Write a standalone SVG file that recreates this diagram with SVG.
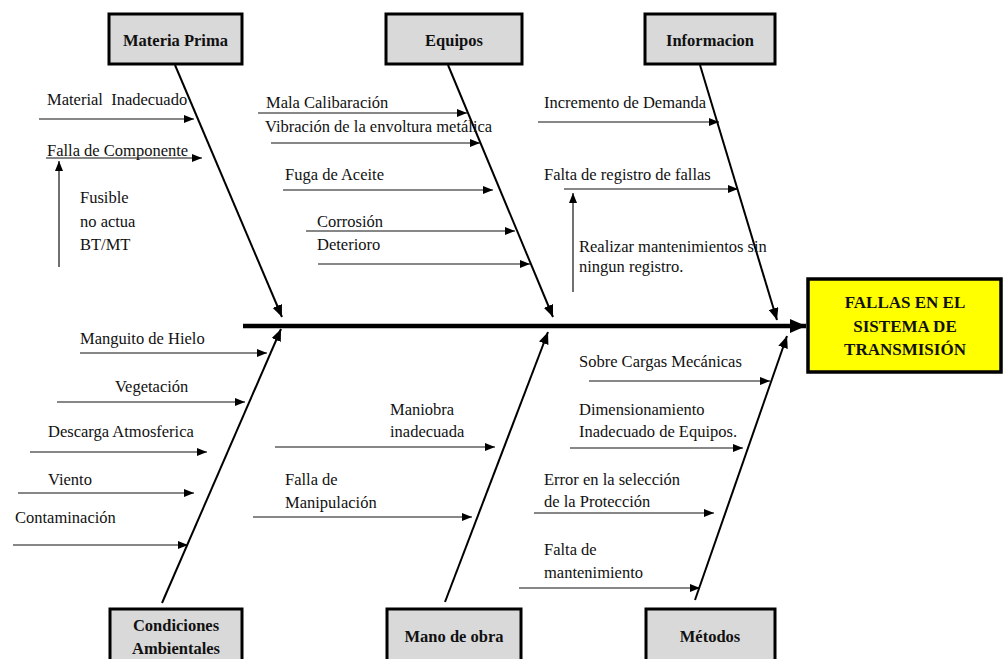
<svg xmlns="http://www.w3.org/2000/svg" width="1003" height="659" viewBox="0 0 1003 659">
<style>
text{font-family:"Liberation Serif","Times New Roman",serif;fill:#111}
.c{font-size:16.5px}
.h{font-size:16.5px;font-weight:bold;text-anchor:middle}
.e{font-size:17px;font-weight:bold;text-anchor:middle}
.box{fill:#d9d9d9;stroke:#000;stroke-width:3}
.eff{fill:#ffff00;stroke:#000;stroke-width:3.5}
.rib{stroke:#111;stroke-width:1.2;fill:none;marker-end:url(#a)}
.bone{stroke:#000;stroke-width:2;fill:none;marker-end:url(#b)}
.spine{stroke:#000;stroke-width:4.5;fill:none;marker-end:url(#s)}
</style>
<defs>
<marker id="a" markerUnits="userSpaceOnUse" markerWidth="10" markerHeight="8" refX="10" refY="4" orient="auto"><path d="M0,0 L10,4 L0,8 z" fill="#000"/></marker>
<marker id="b" markerUnits="userSpaceOnUse" markerWidth="12" markerHeight="10" refX="12" refY="5" orient="auto"><path d="M0,0 L12,5 L0,10 z" fill="#000"/></marker>
<marker id="s" markerUnits="userSpaceOnUse" markerWidth="16" markerHeight="14" refX="16" refY="7" orient="auto"><path d="M0,0 L16,7 L0,14 z" fill="#000"/></marker>
</defs>
<rect width="1003" height="659" fill="#fff"/>

<g id="connectors">
<line class="spine" x1="243" y1="326" x2="806" y2="326"/>
<line class="bone" x1="175" y1="65" x2="282" y2="317"/>
<line class="bone" x1="448" y1="65" x2="553" y2="317"/>
<line class="bone" x1="700" y1="65" x2="777" y2="320"/>
<line class="bone" x1="162" y1="603" x2="281" y2="329"/>
<line class="bone" x1="445" y1="602" x2="548" y2="332"/>
<line class="bone" x1="695" y1="600" x2="787" y2="336"/>
<!-- Materia Prima ribs -->
<line class="rib" x1="39" y1="119" x2="194" y2="119"/>
<line class="rib" x1="46" y1="158" x2="202" y2="158"/>
<line class="rib" x1="59" y1="267" x2="59" y2="161"/>
<!-- Equipos ribs -->
<line class="rib" x1="258" y1="113" x2="467" y2="113"/>
<line class="rib" x1="271" y1="143" x2="480" y2="143"/>
<line class="rib" x1="283" y1="190" x2="493" y2="190"/>
<line class="rib" x1="306" y1="231" x2="515" y2="231"/>
<line class="rib" x1="318" y1="264" x2="530" y2="264"/>
<!-- Informacion ribs -->
<line class="rib" x1="538" y1="122" x2="719" y2="122"/>
<line class="rib" x1="564" y1="189" x2="738" y2="189"/>
<line class="rib" x1="573" y1="292" x2="573" y2="193"/>
<!-- Condiciones ribs -->
<line class="rib" x1="80" y1="353" x2="267" y2="353"/>
<line class="rib" x1="57" y1="402" x2="245" y2="402"/>
<line class="rib" x1="30" y1="452" x2="207" y2="452"/>
<line class="rib" x1="18" y1="493" x2="194" y2="493"/>
<line class="rib" x1="13" y1="545" x2="188" y2="545"/>
<!-- Mano de obra ribs -->
<line class="rib" x1="275" y1="447" x2="495" y2="447"/>
<line class="rib" x1="253" y1="517" x2="472" y2="517"/>
<!-- Metodos ribs -->
<line class="rib" x1="589" y1="381" x2="770" y2="381"/>
<line class="rib" x1="570" y1="448" x2="743" y2="448"/>
<line class="rib" x1="534" y1="513" x2="714" y2="513"/>
<line class="rib" x1="519" y1="588" x2="700" y2="588"/>
</g>

<g id="materia-prima"><rect class="box" x="109" y="14" width="133" height="50"/><text class="h" x="175.5" y="46">Materia Prima</text></g>
<g id="equipos"><rect class="box" x="386" y="14" width="136" height="50"/><text class="h" x="454" y="46">Equipos</text></g>
<g id="informacion"><rect class="box" x="645" y="14" width="130" height="50"/><text class="h" x="710" y="46">Informacion</text></g>
<g id="condiciones"><rect class="box" x="110" y="609" width="132" height="60"/><text class="h" x="176" y="631">Condiciones</text><text class="h" x="176" y="654">Ambientales</text></g>
<g id="mano-de-obra"><rect class="box" x="387" y="609" width="134" height="60"/><text class="h" x="454" y="642">Mano de obra</text></g>
<g id="metodos"><rect class="box" x="646" y="609" width="129" height="60"/><text class="h" x="710" y="642">Métodos</text></g>
<g id="efecto"><rect class="eff" x="808" y="279" width="193" height="93"/><text class="e" x="905" y="308">FALLAS EN EL</text><text class="e" x="905" y="332">SISTEMA DE</text><text class="e" x="905" y="355">TRANSMISIÓN</text></g>

<g id="causas-materia-prima">
<text class="c" x="47" y="105" xml:space="preserve">Material  Inadecuado</text>
<text class="c" x="47" y="156">Falla de Componente</text>
<text class="c" x="80" y="203">Fusible</text>
<text class="c" x="80" y="227">no actua</text>
<text class="c" x="80" y="250">BT/MT</text>
</g>
<g id="causas-equipos">
<text class="c" x="266" y="108">Mala Calibaración</text>
<text class="c" x="265" y="132">Vibración de la envoltura metálica</text>
<text class="c" x="285" y="180">Fuga de Aceite</text>
<text class="c" x="317" y="227">Corrosión</text>
<text class="c" x="317" y="250">Deterioro</text>
</g>
<g id="causas-informacion">
<text class="c" x="544" y="108">Incremento de Demanda</text>
<text class="c" x="544" y="180">Falta de registro de fallas</text>
<text class="c" x="579" y="252">Realizar mantenimientos sin</text>
<text class="c" x="579" y="272">ningun registro.</text>
</g>
<g id="causas-condiciones">
<text class="c" x="80" y="344">Manguito de Hielo</text>
<text class="c" x="115" y="392">Vegetación</text>
<text class="c" x="48" y="437">Descarga Atmosferica</text>
<text class="c" x="48" y="485">Viento</text>
<text class="c" x="15" y="523">Contaminación</text>
</g>
<g id="causas-mano-de-obra">
<text class="c" x="390" y="415">Maniobra</text>
<text class="c" x="390" y="437">inadecuada</text>
<text class="c" x="285" y="485">Falla de</text>
<text class="c" x="285" y="508">Manipulación</text>
</g>
<g id="causas-metodos">
<text class="c" x="579" y="367">Sobre Cargas Mecánicas</text>
<text class="c" x="579" y="415">Dimensionamiento</text>
<text class="c" x="579" y="437">Inadecuado de Equipos.</text>
<text class="c" x="544" y="485">Error en la selección</text>
<text class="c" x="544" y="507">de la Protección</text>
<text class="c" x="544" y="555">Falta de</text>
<text class="c" x="544" y="578">mantenimiento</text>
</g>
</svg>
